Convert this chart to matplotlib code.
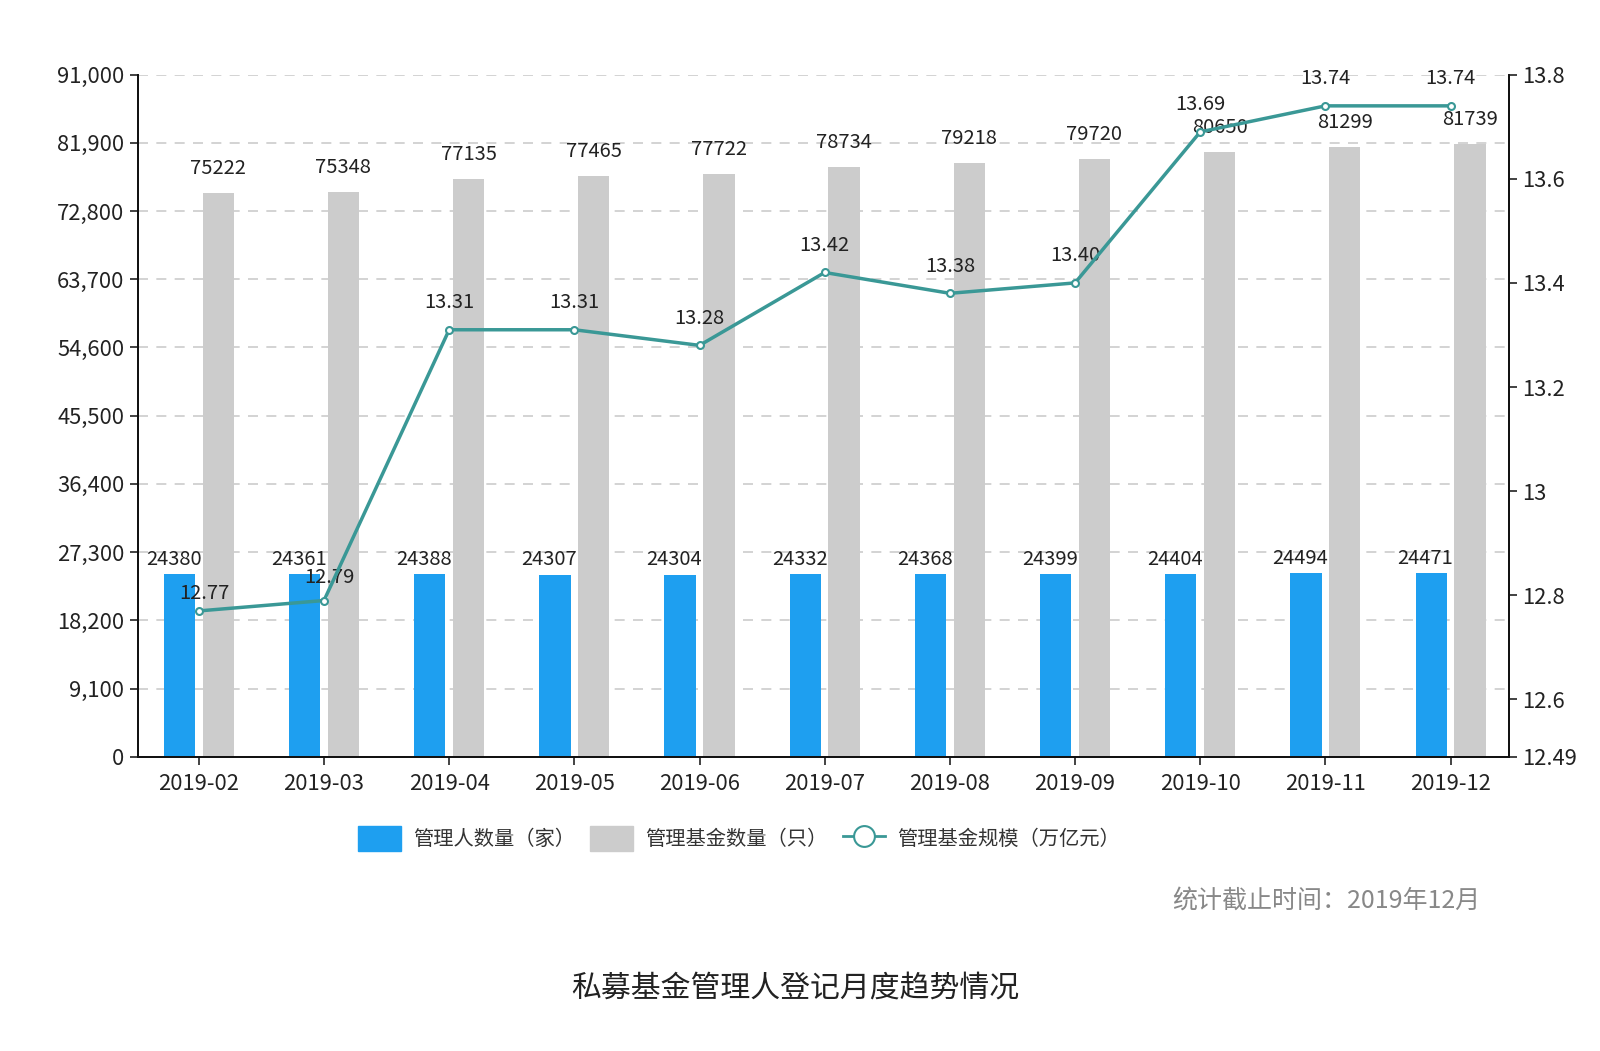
import matplotlib
matplotlib.use("Agg")
import matplotlib.pyplot as plt
from matplotlib.patches import Patch
from matplotlib.lines import Line2D
import numpy as np

plt.rcParams['font.family'] = ['Noto Sans CJK SC', 'DejaVu Sans']

months = ['2019-02', '2019-03', '2019-04', '2019-05', '2019-06', '2019-07',
          '2019-08', '2019-09', '2019-10', '2019-11', '2019-12']
managers = [24380, 24361, 24388, 24307, 24304, 24332, 24368, 24399, 24404, 24494, 24471]
funds = [75222, 75348, 77135, 77465, 77722, 78734, 79218, 79720, 80650, 81299, 81739]
scale = [12.77, 12.79, 13.31, 13.31, 13.28, 13.42, 13.38, 13.40, 13.69, 13.74, 13.74]
left_ticks = [0, 9100, 18200, 27300, 36400, 45500, 54600, 63700, 72800, 81900, 91000]
right_ticks = [12.49, 12.6, 12.8, 13.0, 13.2, 13.4, 13.6, 13.8]
right_labels = ['12.49', '12.6', '12.8', '13', '13.2', '13.4', '13.6', '13.8']

blue = '#1e9ff0'
grey = '#cccccc'
teal = '#3a9896'
txt = '#222222'

fig = plt.figure(figsize=(16, 10.51), dpi=100)
ax = fig.add_axes([0.086, 0.280, 0.857, 0.649])
ax2 = ax.twinx()

x = np.arange(len(months))
w = 0.25
ax.bar(x - 0.155, managers, width=w, color=blue, zorder=2)
ax.bar(x + 0.155, funds, width=w, color=grey, zorder=2)

for i in range(len(months)):
    ax.annotate(str(managers[i]), (x[i] - 0.2, managers[i]), xytext=(0, 3),
                textcoords='offset points', ha='center', va='bottom',
                fontsize=14.5, color=txt, zorder=3)
    ax.annotate(str(funds[i]), (x[i] + 0.155, funds[i]), xytext=(0, 10),
                textcoords='offset points', ha='center', va='bottom',
                fontsize=14.5, color=txt, zorder=3)

ax.set_xlim(-0.489, len(months) - 0.535)
ax.set_ylim(0, 91000)
ax.set_yticks(left_ticks)
ax.set_yticklabels([f'{v:,}' for v in left_ticks])
ax.set_xticks(x)
ax.set_xticklabels(months)
ax.yaxis.grid(True, linestyle=(0, (6, 5)), color='#cccccc', linewidth=1.2)
ax.set_axisbelow(True)
ax.tick_params(axis='both', labelsize=15.8, colors=txt, length=6, width=1.2)
ax.tick_params(axis='x', pad=6)

ax2.plot(x, scale, color=teal, linewidth=2.5, marker='o', markersize=5,
         markerfacecolor='white', markeredgecolor=teal, markeredgewidth=1.5, zorder=5)
# first two labels sit lower and a bit to the right, like the original
label_off = [(4, 5), (4, 9)] + [(0, 12)] * (len(months) - 2)
for i in range(len(months)):
    ax2.annotate(f'{scale[i]:.2f}', (x[i], scale[i]), xytext=label_off[i],
                 textcoords='offset points', ha='center', va='bottom',
                 fontsize=14.5, color=txt)
ax2.set_ylim(12.49, 13.8)
ax2.set_yticks(right_ticks)
ax2.set_yticklabels(right_labels)
ax2.tick_params(axis='y', labelsize=15.8, colors=txt, length=6, width=1.2)

for a in (ax, ax2):
    a.spines['top'].set_visible(False)
    for s in ('left', 'right', 'bottom'):
        a.spines[s].set_color('#111111')
        a.spines[s].set_linewidth(1.3)

handles = [Patch(color=blue), Patch(color=grey),
           Line2D([], [], color=teal, linewidth=2, marker='o', markersize=15,
                  markerfacecolor='white', markeredgecolor=teal, markeredgewidth=1.5)]
labels = ['管理人数量（家）', '管理基金数量（只）', '管理基金规模（万亿元）']
fig.legend(handles, labels, loc='center', bbox_to_anchor=(0.462, 0.202), ncol=3,
           frameon=False, fontsize=14.6, handlelength=2.1, handleheight=1.5,
           columnspacing=0.75, handletextpad=0.6, labelcolor='#333333')

fig.text(0.925, 0.143, '统计截止时间：2019年12月', ha='right', va='center',
         fontsize=18, color='#888888')
fig.text(0.497, 0.060, '私募基金管理人登记月度趋势情况', ha='center', va='center',
         fontsize=21.5, color=txt)

fig.savefig('out.png', dpi=100, facecolor='white')
